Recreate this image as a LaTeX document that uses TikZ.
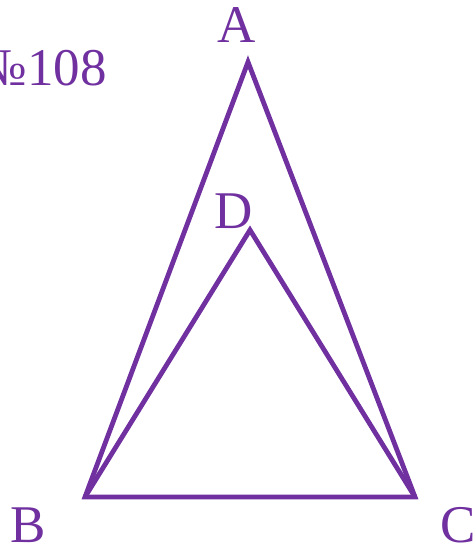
\documentclass[tikz,border=0pt]{standalone}
\usepackage{fontspec}
\setmainfont{Liberation Serif}
\definecolor{violetline}{RGB}{112,48,160}
\begin{document}
\begin{tikzpicture}[x=1pt,y=-1pt,
  edge/.style={draw=violetline, line width=4.8pt},
  vlabel/.style={text=violetline, font=\fontsize{53}{53}\selectfont, inner sep=0pt}]
\useasboundingbox (0,0) rectangle (476,549);
% vertices
\coordinate (A) at (248,62);
\coordinate (B) at (85,497);
\coordinate (C) at (415,497);
\coordinate (D) at (250,230);
% triangles
\draw[edge] (A) -- (B) -- (C) -- cycle;
\draw[edge] (B) -- (D) -- (C);
% labels
\node[vlabel] (labA) at (237,25) {A};
\node[vlabel] (labD) at (234,211) {D};
\node[vlabel] (labB) at (28,525) {B};
\node[vlabel] (labC) at (458,525) {C};
\node[vlabel, anchor=base east] (num) at (107,85) {№108};
\end{tikzpicture}
\end{document}
